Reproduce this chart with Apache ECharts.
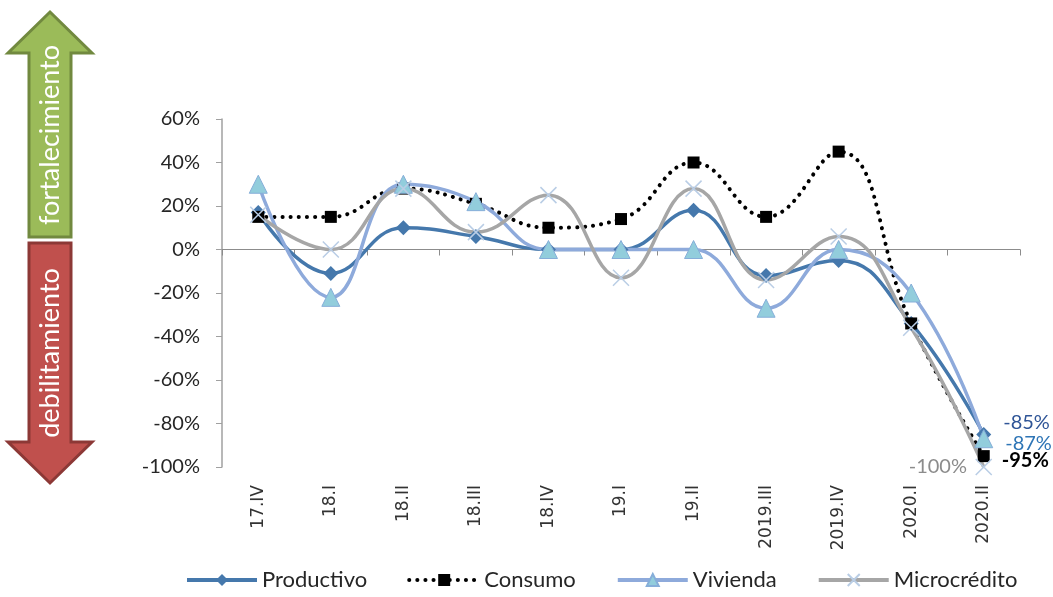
<!DOCTYPE html>
<html>
<head>
<meta charset="utf-8">
<script src="https://cdn.jsdelivr.net/npm/echarts@6/dist/echarts.min.js"></script>
<style>
  html, body { margin: 0; padding: 0; background: #fff; }
  #chart { width: 1053px; height: 597px; }
</style>
</head>
<body>
<div id="chart"></div>
<script>
// data
const categories = ["17.IV", "18.I", "18.II", "18.III", "18.IV", "19.I", "19.II", "2019.III", "2019.IV", "2020.I", "2020.II"];
const productivo = [17, -11, 10, 6, 0, 0, 18, -12, -5, -34, -85];
const consumo = [15, 15, 28, 21, 10, 14, 40, 15, 45, -34, -95];
const vivienda = [30, -22, 30, 22, 0, 0, 0, -27, 0, -20, -87];
const microcredito = [16, 0, 28, 8, 25, -13, 28, -14, 6, -36, -100];
const yTicks = { min: -100, max: 60, step: 20 };

const FONT = "Lato";
const chart = echarts.init(document.getElementById("chart"), null, { renderer: "canvas" });

// put a label only on the last point of a series
function withEndLabel(values, label) {
  return values.map((v, i) => i === values.length - 1 ? { value: v, label: { show: true, ...label } } : v);
}
const pct = p => Math.round(p.value) + "%";

const option = {
  animation: false,
  backgroundColor: "#fff",
  textStyle: { fontFamily: FONT },
  grid: { left: 222, right: 33, top: 119, bottom: 130, containLabel: false },
  legend: {
    bottom: 1,
    left: 180,
    itemWidth: 70,
    itemHeight: 15,
    itemGap: 40,
    lineStyle: { width: 4 },
    textStyle: { fontSize: 22, color: "#262626", fontFamily: FONT },
    data: ["Productivo", "Consumo", "Vivienda", "Microcrédito"]
  },
  xAxis: [
    {
      type: "category",
      data: categories,
      axisLine: { onZero: true, lineStyle: { color: "#8c8c8c", width: 1 } },
      axisTick: { show: true, length: 6, lineStyle: { color: "#8c8c8c" } },
      axisLabel: { show: false },
      splitLine: { show: false }
    },
    {
      type: "category",
      data: categories,
      position: "bottom",
      axisLine: { show: false, onZero: false },
      axisTick: { show: false },
      axisLabel: {
        rotate: 90,
        margin: 18,
        fontSize: 17,
        fontFamily: "DejaVu Sans",
        color: "#333"
      }
    }
  ],
  yAxis: {
    type: "value",
    min: yTicks.min,
    max: yTicks.max,
    interval: yTicks.step,
    axisLine: { show: true, lineStyle: { color: "#a0a0a0", width: 1.5 } },
    axisTick: { show: true, length: 6, lineStyle: { color: "#a0a0a0" } },
    splitLine: { show: false },
    axisLabel: { formatter: "{value}%", fontSize: 20, color: "#262626", margin: 22, fontFamily: FONT }
  },
  series: [
    {
      name: "Productivo",
      type: "line",
      smooth: 0.45,
      data: withEndLabel(productivo, { position: "right", distance: 12, offset: [0, -12], color: "#2F5597", fontSize: 20, formatter: pct }),
      symbol: "diamond",
      symbolSize: 15,
      lineStyle: { color: "#4578AC", width: 3.5 },
      itemStyle: { color: "#4578AC" }
    },
    {
      name: "Consumo",
      type: "line",
      smooth: 0.45,
      data: withEndLabel(consumo, { position: "right", distance: 12, offset: [0, 4], color: "#000", fontSize: 20, fontWeight: "bold", formatter: pct }),
      symbol: "rect",
      symbolSize: 12,
      lineStyle: { color: "#000", width: 4, type: [0.1, 8], cap: "round" },
      itemStyle: { color: "#000" }
    },
    {
      name: "Vivienda",
      type: "line",
      smooth: 0.45,
      data: withEndLabel(vivienda, { position: "right", distance: 12, offset: [0, 5], color: "#2E75B6", fontSize: 20, formatter: pct }),
      symbol: "triangle",
      symbolSize: 18,
      lineStyle: { color: "#8EAADB", width: 3.5 },
      itemStyle: { color: "#92CDDC", borderColor: "#86AED9", borderWidth: 1 }
    },
    {
      name: "Microcrédito",
      type: "line",
      smooth: 0.45,
      data: withEndLabel(microcredito, { position: "left", distance: 8, offset: [0, 0], color: "#8c8c8c", fontSize: 20, formatter: pct }),
      symbol: "path://M0,0L10,10M10,0L0,10",
      symbolSize: 16,
      lineStyle: { color: "#A6A6A6", width: 3.5 },
      itemStyle: { color: "#B9CDE5", borderColor: "#B9CDE5", borderWidth: 1.5 }
    }
  ],
  graphic: [
    {
      type: "polygon",
      shape: { points: [[50, 12], [92, 53], [71, 53], [71, 237], [29, 237], [29, 53], [8, 53]] },
      style: { fill: "#9BBB59", stroke: "#71893F", lineWidth: 3 }
    },
    {
      type: "polygon",
      shape: { points: [[29, 243], [71, 243], [71, 442], [92, 442], [50, 483], [8, 442], [29, 442]] },
      style: { fill: "#C0504D", stroke: "#8C3836", lineWidth: 3 }
    },
    {
      type: "text",
      x: 50, y: 135,
      rotation: Math.PI / 2,
      style: { text: "fortalecimiento", fill: "#fff", fontSize: 27, fontFamily: FONT, fontWeight: 400, align: "center", verticalAlign: "middle" }
    },
    {
      type: "text",
      x: 50, y: 353,
      rotation: Math.PI / 2,
      style: { text: "debilitamiento", fill: "#fff", fontSize: 27, fontFamily: FONT, fontWeight: 400, align: "center", verticalAlign: "middle" }
    }
  ]
};

chart.setOption(option);
</script>
</body>
</html>
